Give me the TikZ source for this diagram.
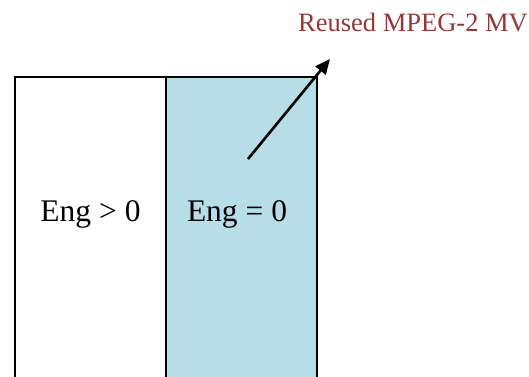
\documentclass[tikz,border=0pt]{standalone}
\usepackage{fontspec}
\setmainfont{Liberation Serif}
\usetikzlibrary{arrows.meta}
\definecolor{engblue}{HTML}{B7DDE8}
\definecolor{mvred}{HTML}{953735}

\begin{document}
\begin{tikzpicture}[x=1pt, y=-1pt, font=\fontsize{31.5}{36}\selectfont]
	\useasboundingbox (0,0) rectangle (529,376);
	\clip (0,0) rectangle (529,376);
	% the two energy columns
	\draw[line width=1.6pt] (15,77) rectangle (166,390);
	\draw[line width=1.6pt, fill=engblue] (166,77) rectangle (317,390);
	\node[anchor=base] (engpos) at (90.5,221) {Eng > 0};
	\node[anchor=base] (engzero) at (237,221) {Eng = 0};
	% motion vector
	\node[anchor=base, text=mvred, font=\fontsize{26.5}{30}\selectfont] (mvlabel) at (413,31) {Reused MPEG-2 MV};
	\coordinate (mvtail) at (248,159);
	\coordinate (mvhead) at (330,59);
	\draw[-{Triangle[length=15pt, width=13pt]}, line width=2.6pt] (mvtail) -- (mvhead);
\end{tikzpicture}
\end{document}
